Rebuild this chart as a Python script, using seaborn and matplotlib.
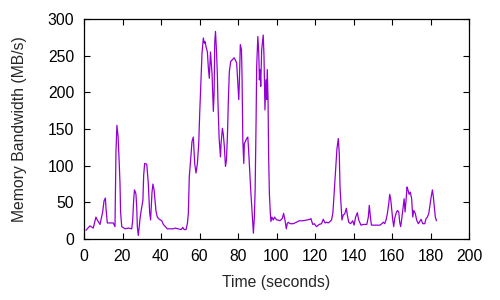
import matplotlib
matplotlib.use("Agg")
import matplotlib.pyplot as plt
import seaborn as sns
import pandas as pd

sns.set_style("ticks")
plt.rcParams['font.family'] = ['Liberation Sans', 'DejaVu Sans']

# time (s) and memory bandwidth (MB/s)
time_s = [
    1.0, 3.1, 4.8, 6.2, 6.9, 8.3, 9.7, 10.4, 11.1, 11.4, 12.1, 15.2, 16.1, 16.6, 17.1,
    17.7, 18.2, 18.7, 19.0, 19.6, 21.3, 23.0, 24.8, 25.3, 25.8, 26.2, 26.7, 27.0, 27.4,
    27.7, 28.2, 28.7, 29.1, 29.6, 30.6, 31.0, 31.5, 32.6, 32.9, 33.4, 33.8, 34.1, 34.6,
    34.8, 35.3, 35.8, 36.4, 36.9, 37.4, 38.1, 39.1, 40.4, 41.2, 43.3, 46.4, 47.3, 49.0,
    50.5, 51.3, 52.0, 53.0, 53.7, 54.2, 54.4, 54.7, 55.4, 56.1, 56.8, 57.5, 58.2, 58.9,
    59.6, 60.1, 60.8, 61.3, 62.0, 62.5, 62.9, 63.4, 64.1, 64.6, 65.1, 65.7, 66.0, 66.5,
    66.9, 67.2, 67.6, 67.9, 68.3, 68.8, 69.3, 69.6, 70.2, 70.5, 70.9, 71.2, 71.9, 72.4,
    72.9, 73.5, 74.0, 74.5, 75.0, 75.5, 76.2, 76.9, 78.0, 78.6, 79.3, 79.9, 80.4, 80.7,
    81.2, 81.8, 82.1, 82.5, 83.0, 83.3, 84.5, 85.1, 85.6, 86.6, 87.7, 88.0, 88.5, 88.9,
    89.4, 89.7, 90.3, 90.8, 91.1, 91.5, 91.8, 92.3, 93.1, 93.5, 94.0, 94.5, 94.9, 95.2,
    95.6, 95.9, 96.3, 96.8, 97.1, 97.6, 98.3, 99.0, 100.1, 100.8, 101.8, 103.0, 103.7,
    104.4, 105.1, 105.6, 106.1, 107.0, 108.7, 110.4, 111.8, 113.9, 117.4, 117.9, 118.8,
    119.6, 120.8, 122.2, 123.4, 124.3, 125.2, 126.0, 126.9, 127.8, 128.6, 129.3, 130.0,
    130.7, 131.4, 132.1, 132.6, 133.0, 133.5, 134.0, 134.7, 135.4, 136.3, 136.8, 137.5,
    138.5, 139.6, 140.3, 141.1, 142.0, 142.7, 143.9, 145.1, 146.9, 147.7, 148.2, 148.8,
    149.3, 150.3, 152.1, 153.8, 154.7, 155.5, 156.2, 156.9, 157.6, 158.3, 158.8, 159.3,
    159.9, 160.4, 160.9, 161.4, 162.1, 162.8, 163.5, 164.0, 164.5, 165.0, 165.7, 166.3,
    166.8, 167.3, 167.8, 168.3, 168.9, 169.5, 170.2, 170.8, 171.3, 172.1, 172.8, 173.7,
    174.6, 175.1, 176.0, 177.0, 177.7, 178.4, 179.1, 179.8, 180.5, 181.0, 181.5, 182.0,
    182.5, 183.1,
]
bandwidth = [
    12, 18, 15, 30, 26, 20, 37, 52, 56, 43, 22, 22, 17, 119, 155,
    140, 110, 76, 37, 17, 14, 15, 14, 26, 53, 67, 64, 61, 43,
    17, 5, 17, 28, 37, 53, 87, 103, 102, 92, 76, 52, 36, 26,
    36, 63, 75, 67, 52, 38, 30, 27, 25, 20, 14, 14, 15, 14,
    13, 16, 13, 13, 21, 35, 55, 85, 108, 133, 139, 103, 90, 103,
    130, 171, 219, 253, 274, 267, 269, 262, 255, 233, 219, 255, 244, 226,
    196, 174, 199, 267, 283, 258, 222, 185, 137, 126, 112, 130, 151, 142,
    126, 99, 108, 140, 190, 228, 242, 244, 247, 244, 240, 214, 190, 213,
    265, 258, 222, 135, 103, 130, 137, 139, 117, 67, 21, 8, 30, 67,
    162, 235, 276, 253, 217, 231, 208, 258, 278, 250, 176, 217, 190, 231,
    192, 115, 62, 35, 24, 30, 26, 30, 26, 26, 25, 28, 35,
    26, 14, 21, 23, 21, 21, 23, 25, 25, 27, 28, 20,
    21, 17, 20, 21, 27, 22, 23, 22, 24, 26, 36, 65,
    96, 123, 137, 117, 71, 48, 26, 33, 34, 42, 33, 23,
    21, 25, 19, 30, 36, 26, 19, 20, 20, 30, 46, 30,
    19, 19, 19, 19, 21, 23, 21, 26, 35, 48, 61, 55,
    39, 26, 17, 28, 35, 39, 37, 23, 17, 26, 42, 55,
    37, 53, 71, 67, 61, 64, 55, 30, 39, 35, 26, 21,
    25, 27, 21, 21, 28, 30, 35, 48, 60, 67, 57, 44,
    30, 25,
]

df = pd.DataFrame({"time": time_s, "bw": bandwidth})

fig = plt.figure(figsize=(5, 3), dpi=100)
ax = fig.add_axes([0.168, 0.203, 0.770, 0.734])
sns.lineplot(data=df, x="time", y="bw", ax=ax, color="#9400D3", linewidth=0.9,
             estimator=None, sort=False)

ax.set_xlim(0, 200)
ax.set_ylim(0, 300)
ax.set_xticks(range(0, 201, 20))
ax.set_yticks(range(0, 301, 50))
ax.set_xlabel("Time (seconds)", fontsize=11.3, labelpad=8)
ax.set_ylabel("Memory Bandwidth (MB/s)", fontsize=11.3, labelpad=15)
ax.tick_params(direction="in", length=4, width=0.8, top=True, right=True,
               labelsize=11.3, pad=7, color="black", labelcolor="black")
for s in ax.spines.values():
    s.set_visible(True)
    s.set_linewidth(0.9)
    s.set_color("black")
ax.grid(False)

fig.savefig("out.png", dpi=100)
